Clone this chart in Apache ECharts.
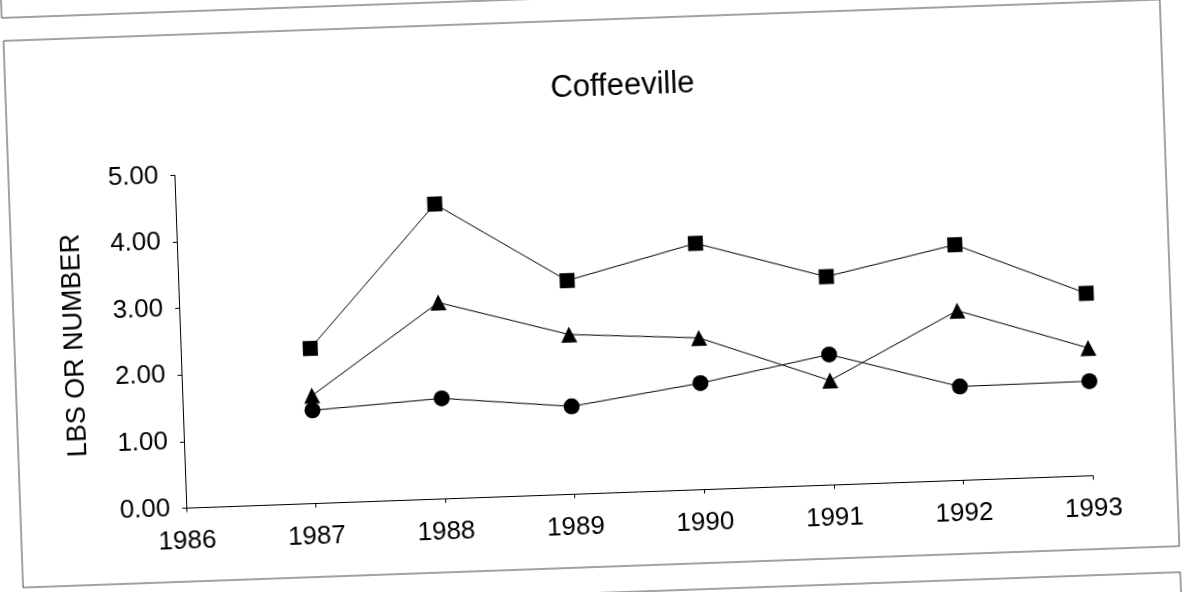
<!DOCTYPE html>
<html>
<head>
<meta charset="utf-8">
<script src="https://cdn.jsdelivr.net/npm/echarts@6/dist/echarts.min.js"></script>
<style>
  html, body { margin: 0; padding: 0; background: #fff; overflow: hidden; width: 1184px; height: 592px; }
  #chart { position: absolute; left: -50px; top: -50px; width: 1284px; height: 692px; transform: rotate(-2.05deg); transform-origin: 642px 346px; }
</style>
</head>
<body>
<div id="chart"></div>
<script>
const titleText = 'Coffeeville';
const yAxisName = 'LBS OR NUMBER';
const years = [1987, 1988, 1989, 1990, 1991, 1992, 1993];
const squareValues = [2.33, 4.43, 3.21, 3.70, 3.13, 3.54, 2.74];
const triangleValues = [1.62, 2.95, 2.40, 2.28, 1.57, 2.55, 1.92];
const circleValues = [1.40, 1.51, 1.32, 1.60, 1.96, 1.41, 1.42];
const xMin = 1986, xMax = 1993, xStep = 1;
const yMin = 0, yMax = 5, yStep = 1;

const font = "'Liberation Sans', Arial, sans-serif";
const chart = echarts.init(document.getElementById('chart'), null, { renderer: 'canvas' });

function mk(values, symbol, size) {
  return {
    type: 'line',
    data: years.map((y, i) => [y, values[i]]),
    symbol: symbol,
    symbolSize: size,
    showAllSymbol: true,
    lineStyle: { color: '#000', width: 1 },
    itemStyle: { color: '#000' },
    emphasis: { disabled: true },
    silent: true
  };
}

const frameStyle = { fill: 'none', stroke: '#444', lineWidth: 1 };

chart.setOption({
  animation: false,
  backgroundColor: '#fff',
  title: {
    text: titleText,
    left: 675,
    textAlign: 'center',
    top: 117,
    textStyle: { fontFamily: font, fontSize: 31, fontWeight: 'normal', color: '#000' }
  },
  graphic: [
    { type: 'rect', shape: { x: 62, y: -300, width: 1158, height: 347 }, style: frameStyle, silent: true },
    { type: 'rect', shape: { x: 63, y: 70, width: 1157, height: 547 }, style: frameStyle, silent: true },
    { type: 'rect', shape: { x: 62, y: 643, width: 1158, height: 300 }, style: frameStyle, silent: true }
  ],
  grid: { left: 229, right: 148, top: 210.5, bottom: 148.5, containLabel: false },
  xAxis: {
    type: 'value',
    min: xMin, max: xMax, interval: xStep,
    splitLine: { show: false },
    axisLine: { lineStyle: { color: '#000', width: 1 } },
    axisTick: { show: true, length: 4, lineStyle: { color: '#000' } },
    axisLabel: { fontFamily: font, fontSize: 26, color: '#000', margin: 20, formatter: v => String(v) }
  },
  yAxis: {
    type: 'value',
    min: yMin, max: yMax, interval: yStep,
    name: yAxisName,
    nameLocation: 'middle',
    nameGap: 92,
    nameTextStyle: { fontFamily: font, fontSize: 27, color: '#000' },
    splitLine: { show: false },
    axisLine: { show: true, lineStyle: { color: '#000', width: 1 } },
    axisTick: { show: true, length: 4, lineStyle: { color: '#000' } },
    axisLabel: { fontFamily: font, fontSize: 26, color: '#000', margin: 16, formatter: v => v.toFixed(2) }
  },
  series: [
    mk(squareValues, 'rect', 15),
    mk(triangleValues, 'triangle', 16),
    mk(circleValues, 'circle', 16)
  ]
});
</script>
</body>
</html>
